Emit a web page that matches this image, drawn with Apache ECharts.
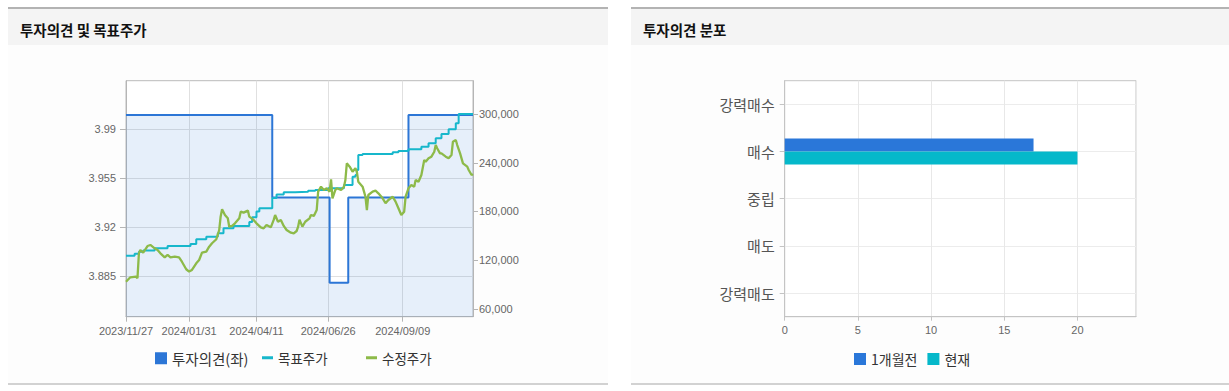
<!DOCTYPE html>
<html><head><meta charset="utf-8">
<script src="https://cdn.jsdelivr.net/npm/echarts@6/dist/echarts.min.js"></script>
<style>html,body{margin:0;padding:0;background:#fff;}#c{width:1229px;height:391px;}</style>
</head><body><div id="c"></div>
<script>
// ---- data ----
const tickDays = [0, 44, 91, 141, 193];
const tickLabels = ['2023/11/27', '2024/01/31', '2024/04/11', '2024/06/26', '2024/09/09'];
const opinionDays = [0, 102, 142, 155, 197, 242];
const opinionValues = [4.0, 3.941, 3.88, 3.941, 4.0, 4.0];
const targetDays = [0, 6, 9, 12, 20, 29, 45, 49, 56, 64, 68, 75, 86, 88, 91, 93, 102, 105, 110, 118, 127, 132, 141, 152, 158, 160, 161, 162, 165, 186, 190, 197, 206, 211, 216, 220, 225, 230, 232, 242];
const targetValues = [125600, 128000, 130600, 132000, 134700, 137500, 140000, 145800, 149000, 153100, 159300, 162200, 167000, 173000, 180000, 183900, 196500, 201000, 203600, 204400, 205600, 206500, 208600, 212600, 222800, 225000, 231000, 249500, 250800, 252800, 254500, 256500, 259800, 263900, 270100, 275400, 281200, 288500, 300000, 300000];
const priceDays = [0, 3, 7, 8, 9, 10, 12, 15, 17, 20, 22, 24, 27, 29, 31, 34, 37, 39, 42, 44, 46, 49, 51, 53, 56, 58, 60, 63, 65, 66, 67, 69, 71, 72, 74, 76, 79, 80, 82, 85, 86, 89, 91, 94, 96, 98, 101, 103, 104, 106, 108, 110, 112, 115, 117, 119, 120, 121, 123, 125, 128, 129, 131, 133, 134, 136, 138, 140, 142, 143, 144, 146, 147, 150, 152, 153, 154, 156, 158, 160, 161, 162, 165, 166, 167, 168, 169, 172, 174, 176, 179, 181, 183, 186, 188, 190, 192, 194, 195, 197, 199, 201, 202, 204, 206, 208, 209, 211, 213, 215, 216, 217, 219, 220, 223, 225, 227, 228, 230, 231, 233, 235, 238, 239, 241, 242];
const priceValues = [93600, 99000, 99800, 97800, 128500, 132600, 129300, 137500, 138800, 134700, 132600, 128500, 123600, 126500, 123600, 124400, 123600, 118200, 108900, 106000, 108000, 116200, 120300, 129300, 130600, 136700, 140900, 145800, 157200, 173600, 182700, 175700, 171700, 161300, 162200, 165400, 171600, 179800, 178600, 181100, 173600, 169600, 165400, 160500, 159300, 163400, 160500, 169600, 175700, 167400, 169600, 162200, 157200, 153900, 153100, 156000, 161000, 170000, 161300, 167400, 171600, 175700, 174500, 181800, 204400, 210600, 206500, 208600, 204400, 219600, 196200, 206500, 208600, 206500, 210600, 218800, 239300, 235200, 229000, 233200, 229000, 216700, 210600, 204400, 198200, 181800, 200300, 204400, 205600, 202400, 196200, 190100, 194200, 198200, 192100, 183900, 175700, 179800, 198200, 208600, 212600, 210600, 218800, 216700, 224900, 243400, 241300, 245500, 247500, 253600, 261800, 257800, 251600, 251600, 247500, 245500, 249500, 265900, 268000, 261800, 251600, 239300, 235200, 231100, 224900, 226000];
const leftTicks = [3.885, 3.92, 3.955, 3.99];
const rightTicks = [60000, 120000, 180000, 240000, 300000];
const ratingCategories = ['강력매수', '매수', '중립', '매도', '강력매도'];
const monthAgoCounts = [0, 17, 0, 0, 0];
const currentCounts = [0, 20, 0, 0, 0];

// ---- styling ----
const KR = "'Noto Sans CJK KR', sans-serif";
const NUM = "'Liberation Sans', Arial, sans-serif";
const cBlue = '#2c76d6', cCyan = '#17b7cb', cGreen = '#8dba49';
const zip = (a, b) => a.map((v, i) => [v, b[i]]);

const chart = echarts.init(document.getElementById('c'), null, { renderer: 'svg' });

const panel = (x, w) => [
  { type: 'rect', shape: { x: x, y: 9, width: w, height: 374 }, style: { fill: '#fdfdfd' }, z: -10 },
  { type: 'rect', shape: { x: x, y: 7, width: w, height: 2 }, style: { fill: '#b3b3b3' }, z: -9 },
  { type: 'rect', shape: { x: x, y: 9, width: w, height: 36 }, style: { fill: '#f4f4f4' }, z: -9 },
  { type: 'rect', shape: { x: x, y: 383, width: w, height: 2 }, style: { fill: '#d2d2d2' }, z: -9 }
];

const option = {
  animation: false,
  backgroundColor: '#fff',
  graphic: [
    ...panel(8, 600), ...panel(631, 598),
    { type: 'text', x: 20, y: 29, style: { text: '투자의견 및 목표주가', font: 'bold 14.5px ' + KR, fill: '#111', verticalAlign: 'middle' }, z: 5 },
    { type: 'text', x: 643, y: 29, style: { text: '투자의견 분포', font: 'bold 14.5px ' + KR, fill: '#111', verticalAlign: 'middle' }, z: 5 }
  ],
  legend: [
    { left: 155, top: 351, padding: 0, itemWidth: 12, itemHeight: 12, data: [{ name: '투자의견(좌)', icon: 'rect' }], textStyle: { fontSize: 14.5, fontFamily: KR, color: '#333' } },
    { left: 262, top: 351, padding: 0, itemWidth: 11, itemHeight: 3, data: [{ name: '목표주가', icon: 'rect' }], textStyle: { fontSize: 13.5, fontFamily: KR, color: '#333' } },
    { left: 366, top: 351, padding: 0, itemWidth: 11, itemHeight: 3, data: [{ name: '수정주가', icon: 'rect' }], textStyle: { fontSize: 13.5, fontFamily: KR, color: '#333' } },
    { left: 854, top: 352, padding: 0, itemWidth: 12, itemHeight: 12, itemGap: 10, data: [{ name: '1개월전', icon: 'rect' }, { name: '현재', icon: 'rect' }], textStyle: { fontSize: 14, fontFamily: KR, color: '#333' } }
  ],
  grid: [
    { left: 126, top: 80.7, width: 347, height: 236, show: true, backgroundColor: '#fff', borderColor: '#bbbbbb', borderWidth: 1 },
    { left: 784.7, top: 80.7, width: 351.3, height: 236, show: true, backgroundColor: '#fff', borderColor: '#c4c4c4', borderWidth: 1 }
  ],
  xAxis: [
    {
      type: 'value', gridIndex: 0, min: 0, max: 242,
      axisLine: { show: true, lineStyle: { color: '#b5b5b5' } },
      axisTick: { show: true, customValues: tickDays, length: 5, lineStyle: { color: '#b5b5b5' } },
      axisLabel: { customValues: tickDays, formatter: v => tickLabels[tickDays.indexOf(v)] || '', color: '#666', fontSize: 11, fontFamily: NUM, margin: 9 },
      splitLine: { show: true, customValues: tickDays, lineStyle: { color: '#e0e0e0' } }
    },
    {
      type: 'value', gridIndex: 1, min: 0, max: 24, interval: 5,
      axisLine: { show: true, lineStyle: { color: '#c4c4c4' } },
      axisTick: { show: true, length: 4, lineStyle: { color: '#c4c4c4' } },
      axisLabel: { showMaxLabel: false, color: '#666', fontSize: 11, fontFamily: NUM, margin: 8 },
      splitLine: { show: true, lineStyle: { color: '#e8e8e8' } }
    }
  ],
  yAxis: [
    {
      type: 'value', gridIndex: 0, position: 'left', min: 3.8557, max: 4.0246,
      axisLine: { show: true, lineStyle: { color: '#b5b5b5' } },
      axisTick: { show: true, customValues: leftTicks, length: 6, lineStyle: { color: '#b5b5b5' } },
      axisLabel: { customValues: leftTicks, formatter: v => String(v), color: '#666', fontSize: 11, fontFamily: NUM, margin: 10 },
      splitLine: { show: true, customValues: leftTicks, lineStyle: { color: '#e0e0e0' } }
    },
    {
      type: 'value', gridIndex: 0, position: 'right', min: 50500, max: 341000,
      axisLine: { show: true, lineStyle: { color: '#b5b5b5' } },
      axisTick: { show: true, customValues: rightTicks, length: 5, lineStyle: { color: '#b5b5b5' } },
      axisLabel: { customValues: rightTicks, formatter: v => v.toLocaleString('en-US'), color: '#666', fontSize: 11, fontFamily: NUM, margin: 6 },
      splitLine: { show: false }
    },
    {
      type: 'category', gridIndex: 1, data: ratingCategories, inverse: true,
      axisLine: { show: true, lineStyle: { color: '#c4c4c4' } },
      axisTick: { show: true, alignWithLabel: true, length: 5, lineStyle: { color: '#c4c4c4' } },
      axisLabel: { color: '#555', fontSize: 15, fontFamily: KR, margin: 10 },
      splitLine: { show: true, alignWithLabel: true, lineStyle: { color: '#ececec' } }
    }
  ],
  series: [
    {
      name: '투자의견(좌)', type: 'line', xAxisIndex: 0, yAxisIndex: 0, step: 'end', showSymbol: false,
      itemStyle: { color: cBlue }, lineStyle: { color: cBlue, width: 2 },
      areaStyle: { origin: 'start', color: 'rgba(44,118,214,0.17)' },
      data: zip(opinionDays, opinionValues)
    },
    {
      name: '목표주가', type: 'line', xAxisIndex: 0, yAxisIndex: 1, step: 'end', showSymbol: false,
      itemStyle: { color: cCyan }, lineStyle: { color: cCyan, width: 2 },
      data: zip(targetDays, targetValues)
    },
    {
      name: '수정주가', type: 'line', xAxisIndex: 0, yAxisIndex: 1, showSymbol: false,
      itemStyle: { color: cGreen }, lineStyle: { color: cGreen, width: 2.3 },
      data: zip(priceDays, priceValues)
    },
    {
      name: '1개월전', type: 'bar', xAxisIndex: 1, yAxisIndex: 2, barWidth: 13, barGap: '0%',
      itemStyle: { color: '#2a77d9' }, data: monthAgoCounts
    },
    {
      name: '현재', type: 'bar', xAxisIndex: 1, yAxisIndex: 2, barWidth: 13, barGap: '0%',
      itemStyle: { color: '#05b8ca' }, data: currentCounts
    }
  ]
};
chart.setOption(option);
</script>
</body></html>
